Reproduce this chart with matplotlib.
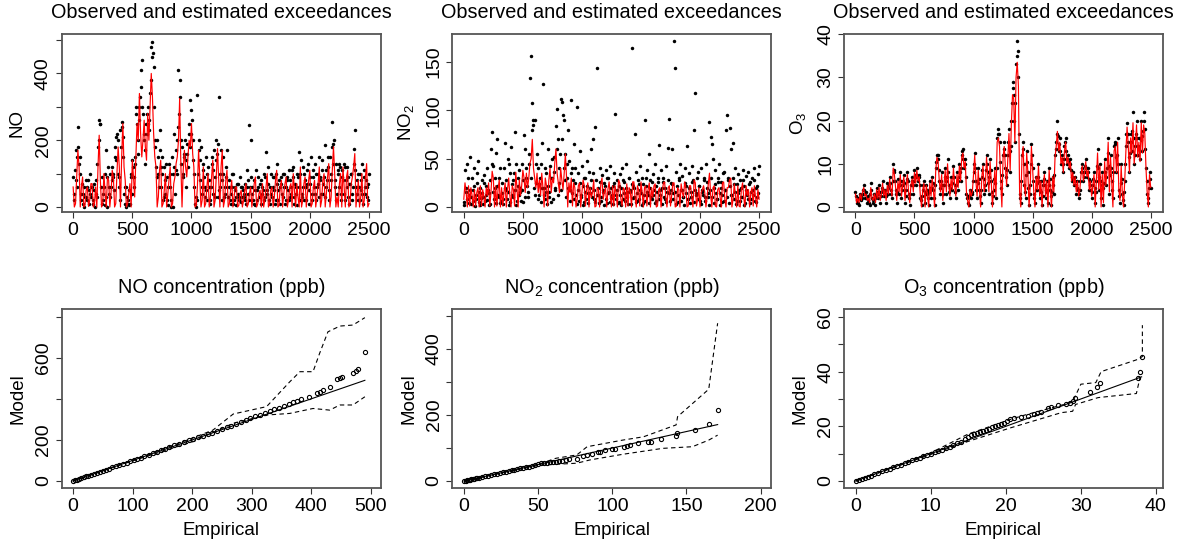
import matplotlib
matplotlib.use('Agg')
import matplotlib.pyplot as plt
import numpy as np

plt.rcParams['font.family'] = ['Liberation Sans', 'DejaVu Sans']
plt.rcParams['mathtext.fontset'] = 'custom'
plt.rcParams['mathtext.rm'] = 'Liberation Sans'
plt.rcParams['mathtext.default'] = 'rm'

# time index: observations every 5 (two interleaved lists), estimates every 10
t_obs = np.arange(0, 2501, 10)
t_obs2 = np.arange(5, 2500, 10)
t_est = np.arange(0, 2501, 10)

# ---------------- NO ----------------
no_obs = [
    90, 20, 170, 60, 240, 130, 150, 40, 10, 60, 30, 80, 20, 50, 100, 30,
    60, 10, 70, 40, 30, 180, 260, 250, 90, 20, 60, 5, 170, 90, 40, 100,
    60, 120, 90, 150, 210, 220, 100, 60, 230, 255, 210, 40, 10, 60, 20, 5,
    10, 100, 140, 90, 150, 300, 250, 160, 260, 360, 440, 280, 200, 130, 280, 250,
    230, 340, 480, 495, 420, 180, 120, 200, 100, 230, 60, 150, 20, 120, 40, 90,
    5, 130, 60, 0, 100, 220, 40, 110, 200, 410, 330, 130, 180, 100, 160, 60,
    190, 120, 250, 320, 220, 140, 60, 10, 0, 335, 170, 80, 180, 40, 130, 60,
    150, 20, 120, 60, 10, 130, 40, 170, 90, 200, 30, 330, 60, 170, 20, 100,
    40, 120, 170, 30, 80, 10, 60, 100, 20, 50, 5, 70, 30, 90, 15, 60,
    30, 70, 10, 110, 40, 245, 200, 60, 20, 80, 5, 50, 90, 30, 70, 10,
    60, 20, 90, 165, 40, 70, 10, 100, 30, 60, 90, 20, 130, 50, 80, 10,
    70, 30, 100, 10, 60, 90, 20, 80, 40, 110, 120, 30, 60, 5, 90, 165,
    100, 40, 120, 20, 80, 60, 110, 10, 70, 150, 40, 90, 130, 20, 60, 100,
    30, 80, 110, 40, 90, 185, 60, 120, 20, 150, 80, 255, 190, 60, 130, 40,
    100, 130, 20, 110, 80, 40, 120, 60, 90, 10, 70, 100, 40, 175, 230, 60,
    80, 20, 100, 50, 130, 10, 90, 40, 60, 20, 100,
]
no_obs2 = [
    40, 110, 80, 150, 180, 100, 20, 70, 40, 0, 30, 60, 80, 10, 40, 60,
    20, 50, 0, 80, 130, 200, 250, 60, 10, 40, 100, 30, 0, 120, 60, 30,
    80, 100, 50, 180, 140, 200, 90, 20, 180, 240, 150, 60, 0, 30, 10, 50,
    90, 40, 120, 60, 130, 280, 200, 300, 330, 410, 300, 220, 170, 250, 220, 300,
    260, 380, 450, 460, 300, 200, 90, 150, 60, 170, 120, 100, 30, 80, 130, 20,
    60, 100, 20, 150, 0, 120, 170, 100, 240, 280, 380, 200, 90, 150, 200, 140,
    160, 220, 180, 290, 260, 200, 100, 30, 20, 100, 200, 140, 60, 110, 90, 30,
    50, 100, 80, 20, 60, 150, 110, 30, 140, 160, 190, 50, 100, 80, 150, 30,
    60, 90, 30, 60, 20, 40, 100, 10, 60, 30, 70, 40, 20, 60, 30, 50,
    40, 20, 60, 80, 20, 60, 90, 40, 10, 50, 110, 20, 60, 30, 80, 40,
    50, 100, 30, 50, 120, 20, 60, 40, 90, 50, 10, 100, 70, 20, 60, 90,
    40, 100, 60, 20, 80, 50, 110, 30, 60, 90, 10, 70, 40, 100, 60, 20,
    140, 30, 60, 100, 20, 70, 130, 50, 90, 20, 110, 60, 40, 100, 70, 150,
    90, 40, 140, 70, 30, 110, 80, 150, 50, 100, 180, 130, 200, 80, 20, 110,
    60, 120, 40, 90, 130, 20, 80, 120, 30, 70, 100, 20, 60, 130, 110, 40,
    100, 60, 20, 80, 40, 110, 60, 80, 30, 70,
]
no_est = [
    60, 0, 10, 90, 170, 120, 0, 60, 90, 0, 5, 50, 60, 2, 20, 70,
    70, 0, 10, 60, 0, 120, 215, 80, 0, 10, 100, 40, 0, 90, 80, 0,
    40, 110, 90, 0, 10, 100, 180, 120, 0, 150, 250, 120, 80, 0, 10, 40,
    70, 0, 140, 90, 30, 150, 250, 200, 340, 220, 150, 200, 260, 180, 140, 280,
    200, 300, 400, 330, 220, 150, 120, 0, 30, 110, 140, 0, 10, 50, 100, 0,
    40, 80, 120, 0, 10, 70, 90, 130, 150, 200, 325, 130, 0, 110, 170, 120,
    90, 150, 200, 180, 250, 160, 120, 0, 5, 60, 170, 90, 0, 20, 120, 0,
    10, 60, 100, 0, 30, 90, 140, 0, 20, 100, 175, 80, 0, 120, 170, 0,
    20, 80, 110, 0, 10, 50, 80, 0, 30, 60, 60, 0, 5, 40, 50, 0,
    20, 50, 70, 0, 10, 40, 60, 0, 30, 70, 90, 0, 10, 40, 50, 0,
    70, 0, 20, 60, 100, 0, 10, 50, 60, 0, 30, 80, 110, 0, 5, 60,
    80, 0, 40, 70, 90, 0, 20, 60, 70, 0, 100, 50, 0, 70, 30, 0,
    120, 0, 20, 70, 90, 0, 40, 80, 110, 0, 10, 60, 80, 0, 30, 70,
    120, 0, 20, 80, 100, 0, 40, 90, 130, 0, 30, 110, 180, 100, 0, 30,
    0, 70, 100, 0, 120, 60, 0, 90, 110, 0, 10, 70, 90, 120, 160, 0,
    40, 80, 0, 30, 100, 0, 20, 90, 130, 0, 10,
]

# ---------------- NO2 ----------------
no2_obs = [
    5, 38, 20, 45, 12, 52, 3, 30, 18, 40, 8, 25, 48, 15, 2, 28,
    10, 33, 6, 22, 40, 14, 3, 60, 78, 42, 20, 56, 70, 12, 30, 4,
    25, 8, 40, 66, 18, 50, 2, 35, 62, 12, 28, 78, 45, 6, 22, 38,
    15, 44, 5, 75, 60, 30, 10, 45, 134, 156, 108, 85, 90, 25, 55, 40,
    12, 45, 66, 127, 20, 8, 35, 60, 15, 42, 5, 30, 52, 18, 84, 101,
    70, 40, 112, 109, 95, 90, 55, 30, 80, 48, 18, 111, 40, 65, 25, 12,
    103, 35, 58, 10, 42, 22, 5, 30, 48, 14, 36, 20, 60, 70, 8, 83,
    28, 144, 12, 40, 6, 33, 18, 25, 38, 4, 30, 15, 42, 9, 22, 35,
    96, 12, 28, 5, 34, 20, 40, 8, 26, 44, 15, 3, 30, 18, 165, 22,
    10, 76, 36, 6, 24, 42, 14, 30, 4, 90, 22, 38, 12, 55, 28, 8,
    34, 18, 44, 6, 26, 64, 12, 38, 20, 30, 8, 42, 16, 61, 91, 25,
    60, 14, 172, 144, 36, 5, 28, 44, 18, 32, 10, 40, 22, 63, 8, 35,
    16, 42, 28, 80, 118, 12, 36, 22, 6, 40, 18, 30, 10, 45, 26, 14,
    88, 72, 65, 50, 20, 38, 8, 30, 44, 14, 26, 5, 36, 18, 80, 95,
    30, 82, 60, 12, 66, 24, 40, 6, 34, 18, 28, 10, 38, 22, 4, 32,
    14, 36, 26, 8, 30, 18, 40, 5, 22, 34, 42,
]
no2_obs2 = [
    2, 15, 8, 30, 4, 18, 10, 6, 22, 1, 12, 35, 5, 20, 9, 14,
    3, 25, 12, 7, 18, 2, 28, 45, 16, 8, 30, 4, 22, 10, 40, 6,
    14, 3, 20, 28, 8, 16, 45, 5, 24, 10, 35, 18, 2, 30, 12, 20,
    6, 18, 28, 10, 40, 22, 15, 55, 30, 80, 90, 20, 12, 45, 8, 24,
    30, 5, 20, 12, 40, 15, 3, 22, 10, 30, 50, 8, 36, 20, 60, 12,
    25, 55, 18, 70, 40, 28, 10, 45, 20, 6, 35, 14, 28, 8, 40, 3,
    18, 6, 25, 12, 2, 30, 16, 8, 22, 4, 14, 28, 10, 35, 18, 5,
    12, 20, 4, 26, 10, 16, 2, 22, 8, 30, 14, 5, 20, 12, 3, 25,
    8, 18, 4, 22, 12, 2, 28, 14, 6, 20, 10, 30, 16, 3, 24, 9,
    20, 5, 14, 28, 8, 18, 2, 24, 12, 6, 30, 15, 4, 20, 10, 26,
    12, 4, 22, 15, 30, 8, 18, 3, 26, 10, 20, 5, 28, 14, 6, 18,
    24, 8, 16, 3, 22, 12, 30, 6, 18, 10, 2, 25, 14, 8, 20, 4,
    10, 26, 5, 18, 14, 30, 8, 22, 3, 16, 12, 28, 6, 20, 10, 2,
    18, 30, 10, 4, 24, 14, 8, 26, 2, 20, 12, 35, 6, 18, 10, 28,
    4, 22, 12, 30, 8, 16, 3, 24, 14, 6, 20, 10, 28, 2, 18, 12,
    8, 24, 4, 16, 12, 28, 6, 20, 10, 14,
]
no2_est = [
    8, 25, 15, 0, 22, 1, 20, 12, 0, 18, 1, 15, 20, 0, 22, 1,
    18, 10, 0, 20, 12, 25, 1, 15, 37, 30, 0, 22, 1, 18, 28, 0,
    20, 1, 15, 25, 0, 18, 30, 12, 0, 22, 18, 1, 36, 20, 0, 28,
    12, 22, 38, 30, 15, 35, 20, 30, 45, 50, 70, 40, 30, 20, 35, 15,
    28, 12, 35, 20, 0, 30, 22, 1, 28, 40, 15, 30, 25, 45, 60, 35,
    25, 15, 40, 28, 18, 35, 55, 30, 0, 25, 15, 30, 1, 25, 20, 0,
    8, 22, 25, 0, 15, 28, 22, 1, 18, 25, 0, 20, 10, 15, 28, 0,
    1, 20, 18, 0, 24, 30, 8, 15, 20, 0, 18, 26, 12, 0, 22, 1,
    22, 15, 0, 28, 25, 8, 1, 20, 18, 0, 24, 1, 20, 16, 0, 26,
    26, 10, 0, 22, 18, 1, 26, 15, 0, 20, 22, 1, 18, 25, 0, 20,
    10, 22, 24, 0, 1, 18, 20, 0, 15, 25, 26, 10, 0, 20, 22, 1,
    12, 25, 25, 0, 1, 20, 18, 0, 24, 15, 10, 26, 20, 0, 1, 22,
    22, 10, 0, 28, 25, 1, 8, 20, 0, 15, 18, 22, 15, 0, 10, 24,
    35, 12, 0, 20, 22, 1, 0, 18, 20, 10, 0, 25, 26, 8, 0, 20,
    20, 28, 30, 0, 8, 24, 12, 0, 22, 1, 0, 18, 25, 10, 0, 22,
    12, 18, 0, 15, 20, 1, 22, 10, 0, 18, 8,
]

# ---------------- O3 ----------------
o3_obs = [
    3.5, 1, 2, 0.5, 3, 1.5, 4, 5, 2, 3.5, 1, 2.5, 0.5, 5.5, 2, 1,
    3, 0.5, 4.5, 2, 5, 1, 3.5, 6, 2.5, 4, 1, 5.5, 3, 7, 4, 2,
    10, 8, 4, 1, 6.5, 3, 8, 2, 5, 7.5, 1, 4, 8, 3, 0.5, 5,
    7, 3, 8.5, 5, 9, 6, 7.5, 2, 0.5, 4, 6, 1, 5, 3, 0.5, 6,
    2, 7, 4, 0.5, 9, 12, 11, 6, 3, 8, 1, 5, 9, 3, 11, 5,
    2, 7, 4, 9.5, 5, 2, 8, 4, 10, 6, 12, 13.5, 9, 11, 3, 1,
    0.5, 4, 2, 3.5, 8, 12.5, 6, 2, 9, 4, 1, 7, 10, 3, 5, 12,
    8, 3, 11, 6, 1, 4, 9, 2, 16, 18, 15, 6, 3, 12, 15, 9,
    5, 12, 18, 8, 20, 29, 26, 15, 33, 38.5, 30, 3, 1, 12, 15, 5,
    2, 13, 8, 0.5, 5, 14.5, 9, 3, 1, 7, 4, 10, 2, 6, 0.5, 5,
    8, 2, 6, 1, 9, 4, 0.5, 7, 3, 12, 15, 20, 13, 16, 10, 12,
    8, 14, 16, 10, 12, 9, 11, 6, 8, 5, 7, 3, 6, 2, 4, 8,
    10, 6, 8, 11, 7, 9, 4, 6, 2, 5, 8, 1, 6, 13.5, 4, 10,
    2, 8, 0.5, 11, 5, 9, 16, 3, 12, 6, 2, 14, 15, 8, 16, 4,
    1, 10, 3, 0.5, 6, 14, 19.5, 15, 8, 17, 13, 22, 10, 14, 20, 12,
    16, 11, 20, 13, 22, 18, 9, 3, 1, 8, 4.5,
]
o3_obs2 = [
    2.5, 1.5, 1, 2, 2.5, 2, 3, 4, 3, 2, 1.5, 1, 3, 4, 1.5, 2,
    2, 2.5, 3.5, 3, 3.5, 2.5, 4.5, 4, 3.5, 2.5, 3, 4.5, 5, 5.5, 3, 6,
    8.5, 6, 3, 3.5, 5, 5, 6, 4, 6, 5.5, 2.5, 6.5, 6, 2, 3, 6,
    5, 6, 7.5, 7, 7.5, 7, 5, 1.5, 2.5, 5, 3.5, 3, 4, 2, 3.5, 4.5,
    4.5, 5.5, 2, 5, 10.5, 12, 8.5, 4.5, 6, 5, 3, 7, 6, 7, 8, 3.5,
    4.5, 5.5, 7, 7, 3.5, 5, 6, 7, 8, 9, 13, 11, 10, 7, 2, 2.5,
    2.5, 3, 3, 6, 10, 9, 4, 5.5, 6.5, 2.5, 4, 8.5, 6.5, 4, 8.5, 10,
    5.5, 7, 8.5, 3.5, 2.5, 6.5, 5.5, 9, 17, 17, 10.5, 4.5, 7.5, 13.5, 12, 7,
    8.5, 15, 13, 14, 24, 27.5, 20, 24, 35, 36, 17, 2, 6, 13.5, 10, 3.5,
    7.5, 10.5, 4.5, 3, 10, 12, 6, 2, 4, 5.5, 7, 6, 4, 3.5, 2.5, 6.5,
    5, 4, 3.5, 5, 6.5, 2.5, 3.5, 5, 7.5, 13.5, 17, 16.5, 14.5, 13, 11, 10,
    11, 15, 13, 11, 10.5, 10, 8.5, 7, 6.5, 6, 5, 4.5, 4, 3, 6, 9,
    8, 7, 9.5, 9, 8, 6.5, 5, 4, 3.5, 6.5, 4.5, 3.5, 9.5, 9, 7, 6,
    5, 4.5, 5.5, 8, 7, 12.5, 9.5, 7.5, 9, 4, 8, 14.5, 11.5, 12, 10, 2.5,
    5.5, 6.5, 1.5, 3.5, 10, 17, 17, 11.5, 12.5, 15, 17.5, 16, 12, 17, 16, 14,
    13.5, 15.5, 16.5, 17.5, 20, 13.5, 6, 2, 4.5, 6.5,
]
o3_est = [
    3, 1, 2, 1, 3, 1.5, 3.5, 4.5, 2.5, 3, 1.5, 2, 1, 4.5, 2, 1.5,
    3, 1, 4, 2, 4.5, 1.5, 3, 5.5, 2.5, 4, 1.5, 5, 3, 6.5, 4, 2.5,
    9, 7.5, 4.5, 1.5, 6, 3.5, 7.5, 2.5, 5, 7, 1.5, 4.5, 7.5, 3.5, 1, 5,
    6.5, 3.5, 8, 5.5, 8.5, 6, 7, 2.5, 0, 4, 5.5, 0, 5, 3, 0, 5.5,
    2.5, 6.5, 4, 0, 8.5, 11.5, 10.5, 6, 3.5, 7.5, 1.5, 5, 8.5, 3.5, 10, 5,
    2.5, 6.5, 4, 9, 5, 2.5, 7.5, 4.5, 9.5, 6, 11.5, 12.5, 9, 10.5, 3.5, 1.5,
    0, 4, 2.5, 3.5, 7.5, 12, 6, 2.5, 8.5, 4, 0, 7, 9.5, 3.5, 5, 11.5,
    7.5, 3.5, 10.5, 6, 0, 4, 8.5, 2.5, 15, 16, 14, 6, 0, 11.5, 14, 9,
    5, 11, 17, 8.5, 19, 26, 25, 15, 30, 33.5, 28, 3.5, 0, 11.5, 14, 5,
    2.5, 12.5, 8, 0, 5, 14, 9, 3.5, 0, 7, 4, 9.5, 2.5, 6, 0, 5,
    7.5, 2.5, 6, 0, 8.5, 4, 0, 7, 3.5, 11.5, 14, 17.5, 13, 15, 10, 11.5,
    8, 13, 15, 10, 11.5, 9, 10.5, 6, 8, 5, 7, 3.5, 6, 2.5, 4, 7.5,
    9.5, 6, 8, 10.5, 7, 8.5, 4, 6, 2.5, 5, 7.5, 0, 6, 12.5, 4, 9.5,
    0, 7.5, 1, 10.5, 5, 8.5, 15, 3.5, 11.5, 6, 0, 13, 14, 8, 15, 4,
    1.5, 9.5, 3, 0, 6, 13, 18.5, 14, 8, 16, 12.5, 19.5, 10, 13.5, 19, 11.5,
    15, 10.5, 19.5, 12.5, 19, 17, 9, 3.5, 0, 7.5, 4.5,
]

# ---------------- QQ plots (empirical vs model quantiles) ----------------
no_emp = [0, 3, 6, 10, 14, 18, 22, 26, 30, 35, 40, 45, 50, 55, 60, 66, 72, 78, 84, 90,
          96, 102, 108, 114, 120, 127, 134, 141, 148, 155, 162, 170, 178, 186, 194, 202,
          210, 218, 226, 234, 242, 250, 258, 266, 274, 282, 290, 298, 306, 314, 322, 330,
          338, 346, 354, 362, 370, 376, 383, 397, 409, 414, 420, 431, 443, 449, 452, 470,
          475, 479, 490]
no_mod = [0, 3, 6, 10, 14, 18, 22, 26, 30, 35, 40, 45, 50, 55, 60, 66, 72, 78, 84, 90,
          96, 102, 108, 114, 120, 127, 134, 141, 149, 157, 165, 173, 181, 190, 198, 205,
          212, 220, 228, 236, 244, 252, 262, 270, 279, 288, 296, 305, 314, 322, 331, 340,
          349, 357, 366, 375, 384, 390, 398, 410, 428, 434, 445, 459, 495, 499, 505, 524,
          534, 545, 629]
no_up_x = [0, 100, 200, 235, 269, 325, 364, 381, 403, 414, 428, 448, 470, 490]
no_up_y = [0, 102, 208, 248, 326, 362, 483, 532, 532, 621, 726, 754, 759, 795]
no_lo_x = [0, 100, 202, 269, 325, 364, 403, 431, 448, 470, 490]
no_lo_y = [0, 98, 192, 281, 321, 329, 353, 345, 370, 370, 410]

no2_emp = [0, 1, 2, 3, 4, 5, 6, 7, 8, 9, 10, 12, 14, 16, 18, 20, 22, 24, 26, 28, 30, 32,
           34, 36, 38, 40, 42, 44, 46, 48, 50, 52, 54, 56, 58, 60, 62, 64, 66, 69, 71, 76,
           80, 83, 86, 90, 92, 95, 100, 102, 108, 110, 112, 117, 124, 126, 133, 143, 143.5,
           156, 165, 171]
no2_mod = [0, 1, 2, 3, 4, 5, 6, 7, 8, 9, 10, 12, 14, 16, 18, 20, 22, 24, 26, 28, 30, 32,
           34, 36, 38, 40, 42, 44, 47, 50, 52, 54, 55, 56, 57, 58, 59, 60, 61, 63, 66, 68,
           76, 79, 82, 87, 89, 93, 96, 97, 104, 106, 109, 114, 119, 119, 127, 137, 144,
           155, 173, 215]
no2_up_x = [0, 30, 51, 62, 76, 83, 107, 121, 143, 144, 165, 171]
no2_up_y = [0, 31, 52, 69, 79, 104, 124, 134, 170, 195, 278, 478]
no2_lo_x = [0, 30, 51, 76, 85, 107, 134, 154, 165, 171]
no2_lo_y = [0, 29, 48, 54, 64, 81, 99, 104, 124, 139]

o3_emp = [0, 0.4, 0.8, 1.2, 1.6, 2, 2.5, 3, 3.5, 4, 4.5, 5, 5.5, 6, 6.5, 7, 7.5, 8, 8.5,
          9, 9.5, 10, 10.5, 11, 11.5, 12, 12.5, 13, 13.5, 14, 14.5, 15, 15.4, 15.8, 16.2,
          16.6, 17, 17.4, 17.8, 18.2, 18.6, 19, 19.4, 19.8, 20.2, 20.6, 21.1, 22, 22.9,
          23.8, 24.2, 24.7, 25.6, 26, 26.9, 28, 28.5, 28.9, 29.2, 31.2, 32.1, 32.5, 37.6,
          37.9, 38.1]
o3_mod = [0, 0.4, 0.8, 1.2, 1.6, 2, 2.5, 3, 3.5, 4, 4.5, 5, 5.5, 6, 6.5, 7, 7.5, 8, 8.5,
          9, 9.5, 10, 10.5, 11, 11.5, 12, 12.5, 13.2, 13.8, 14.4, 15.2, 16.2, 16.8, 17.3,
          17.6, 18, 18.3, 18.8, 19.2, 19.6, 20, 20.5, 20.9, 21.3, 21.8, 22.5, 23.2, 23.5,
          23.9, 24.5, 25, 25.4, 26.6, 27, 27.8, 28, 28.7, 29.4, 30.2, 32.7, 34.5, 35.7,
          37.6, 39.7, 45.3]
o3_up_x = [0, 10, 15, 20.7, 22.5, 28.3, 29, 30, 32, 32.7, 37.4, 38.2, 38.2]
o3_up_y = [0, 10.3, 17.2, 22.6, 24.1, 28.4, 29.5, 35.4, 36, 40, 44.3, 45.5, 57]
o3_lo_x = [0, 10, 15, 20.7, 27.4, 28.9, 29.3, 32.3, 37.4, 37.9]
o3_lo_y = [0, 9.7, 14.5, 19.5, 25, 25.5, 28, 30.5, 32, 38]

FS = 14


def style(ax, xlim, ylim, xticks, yticks, ylabels):
    ax.set_xlim(xlim)
    ax.set_ylim(ylim)
    for sp in ax.spines.values():
        sp.set_color('#555555')
        sp.set_linewidth(1.3)
    ax.tick_params(direction='out', length=4, width=0.8, color='#333333',
                   labelsize=FS, pad=3)
    ax.set_xticks(xticks)
    ax.set_yticks(yticks)
    ax.set_yticklabels(ylabels, rotation=90, va='center')


fig = plt.figure(figsize=(11.86, 5.41), dpi=100)
lefts = [0.052, 0.3814, 0.7116]
widths = [0.2692, 0.2687, 0.2687]

top = [
    (no_obs, no_obs2, no_est, 'NO', (-15, 518), [0, 100, 200, 300, 400, 500],
     ['0', '', '200', '', '400', '']),
    (no2_obs, no2_obs2, no2_est, 'NO$_2$', (-5.2, 179), [0, 50, 100, 150],
     ['0', '50', '100', '150']),
    (o3_obs, o3_obs2, o3_est, 'O$_3$', (-1.17, 40.04), [0, 10, 20, 30, 40],
     ['0', '10', '20', '30', '40']),
]
for i, (obs, obs2, est, name, ylim, yt, yl) in enumerate(top):
    ax = fig.add_axes([lefts[i], 0.6081, widths[i], 0.329])
    ax.plot(t_obs, obs, 'o', color='black', ms=2.5, mew=0)
    ax.plot(t_obs2, obs2, 'o', color='black', ms=2.5, mew=0)
    ax.plot(t_est, est, '-', color='red', lw=0.85)
    style(ax, (-97, 2601), ylim, [0, 500, 1000, 1500, 2000, 2500], yt, yl)
    ax.set_ylabel(name, fontsize=13.5)
    ax.yaxis.set_label_coords(-0.113, 0.5)
    ax.text(0.5, 1.09, 'Observed and estimated exceedances', transform=ax.transAxes,
            ha='center', va='baseline', fontsize=14.3)

bottom = [
    (no_emp, no_mod, no_up_x, no_up_y, no_lo_x, no_lo_y, 'NO concentration (ppb)',
     (-19, 517), (-35.5, 837), [0, 100, 200, 300, 400, 500],
     [0, 200, 400, 600, 800], ['0', '200', '', '600', '']),
    (no2_emp, no2_mod, no2_up_x, no2_up_y, no2_lo_x, no2_lo_y, 'NO$_2$ concentration (ppb)',
     (-7.9, 207), (-22, 521), [0, 50, 100, 150, 200],
     [0, 100, 200, 300, 400, 500], ['0', '', '200', '', '400', '']),
    (o3_emp, o3_mod, o3_up_x, o3_up_y, o3_lo_x, o3_lo_y, 'O$_3$ concentration (ppb)',
     (-1.57, 40.9), (-2.67, 62.9), [0, 10, 20, 30, 40],
     [0, 10, 20, 30, 40, 50, 60], ['0', '', '20', '', '40', '', '60']),
]
for i, (emp, mod, ux, uy, lx, ly, title, xlim, ylim, xt, yt, yl) in enumerate(bottom):
    ax = fig.add_axes([lefts[i], 0.0974, widths[i], 0.3314])
    ax.plot(emp, mod, 'o', mfc='none', mec='black', ms=3.0, mew=0.8)
    ax.plot([0, max(emp)], [0, max(emp)], '-', color='black', lw=0.8)
    ax.plot(ux, uy, '--', color='black', lw=0.8, dashes=(4, 3))
    ax.plot(lx, ly, '--', color='black', lw=0.8, dashes=(4, 3))
    style(ax, xlim, ylim, xt, yt, yl)
    ax.set_xlabel('Empirical', fontsize=13.5, va='top')
    ax.xaxis.set_label_coords(0.5, -0.186)
    ax.set_ylabel('Model', fontsize=13.5)
    ax.yaxis.set_label_coords(-0.11, 0.5)
    ax.text(0.5, 1.091, title, transform=ax.transAxes,
            ha='center', va='baseline', fontsize=14.3)

fig.savefig('out.png', dpi=100)
